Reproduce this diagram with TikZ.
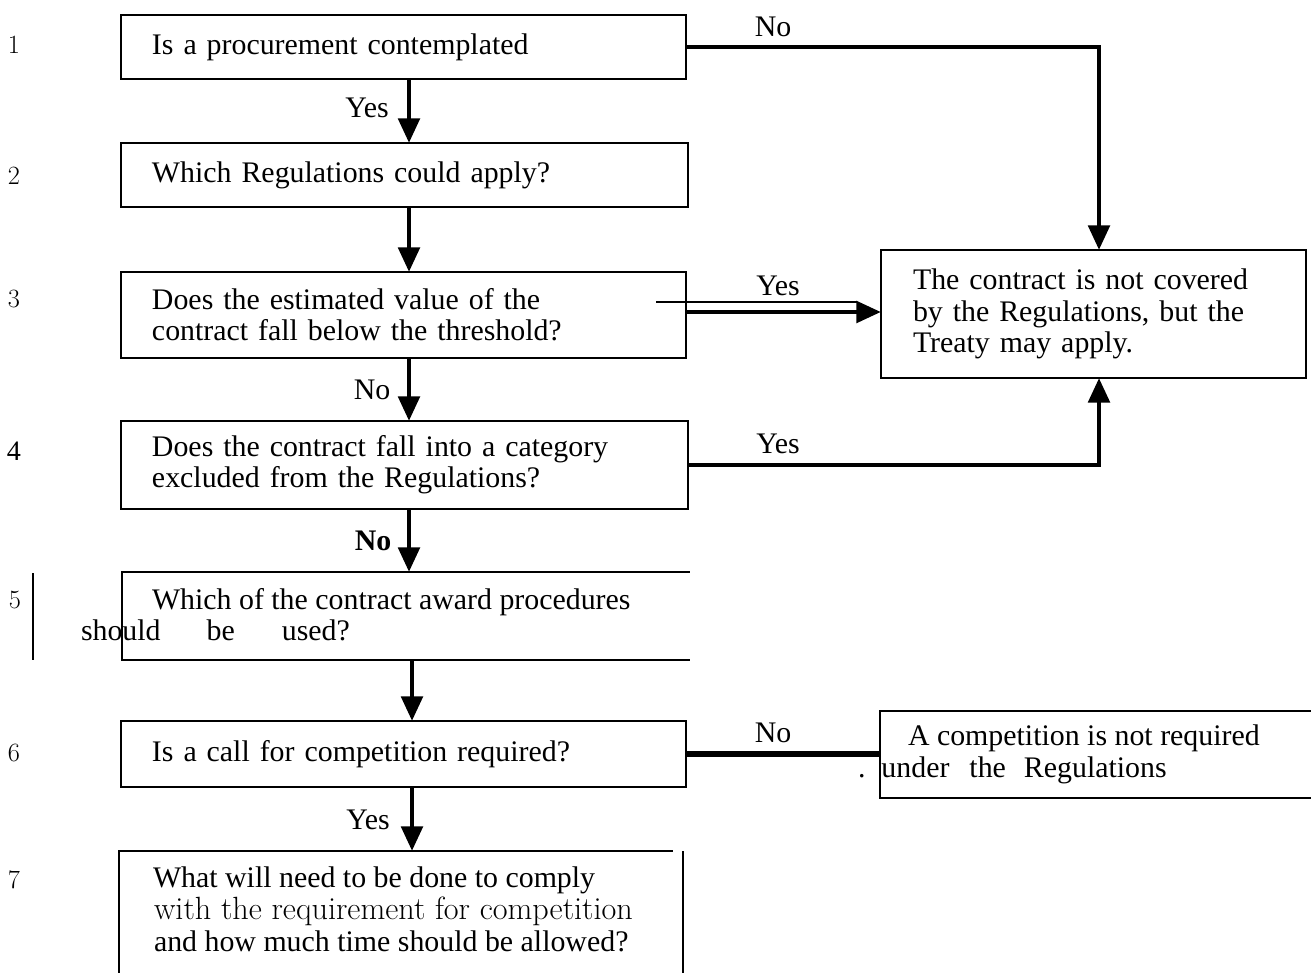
\documentclass[tikz,border=0pt]{standalone}
\usepackage{fontspec}
\newfontfamily\tms{Liberation Serif}
\usetikzlibrary{arrows.meta,calc}
\begin{document}
\begin{tikzpicture}[x=0.02cm,y=-0.02cm,
  every node/.style={inner sep=0pt,outer sep=0pt},
  txt/.style={font=\tms\fontsize{17}{17.8}\selectfont},
  lmtxt/.style={font=\fontsize{18.3}{17.8}\selectfont},
  procbox/.style={draw,line width=1.5pt,anchor=north west,txt,align=left,inner xsep=0.62cm,inner ysep=0pt},
  openbox/.style={anchor=north west},
  edgeline/.style={line width=1.5pt},
  conn/.style={line width=2.8pt},
  arr/.style={conn,-{Triangle[length=14pt,width=12pt]}},
  lab/.style={txt},
  num/.style={font=\fontsize{15}{15}\selectfont},
]
\fill[white] (0,0) rectangle (1311,973);
\useasboundingbox (0,0) rectangle (1311,973);

% column coordinates for the vertical connectors
\coordinate (colA) at (409,0);
\coordinate (colB) at (412,0);
\coordinate (colR) at (1099,0);
\coordinate (rowY) at (0,312);
\coordinate (t1) at (656,302);
\coordinate (t2) at (857,302);

% boxes
\node[procbox,text width=10.06cm,minimum height=1.28cm] (b1) at (121,15) {Is a procurement contemplated};
\node[procbox,text width=10.1cm,minimum height=1.28cm] (b2) at (121,143) {Which Regulations could apply?};
\node[procbox,text width=10.06cm,minimum height=1.72cm] (b3) at (121,272) {Does the estimated value of the\\contract fall below the threshold?};
\node[procbox,text width=10.1cm,minimum height=1.76cm] (b4) at (121,421) {Does the contract fall into a category\\excluded from the Regulations?};
\node[openbox,minimum width=11.36cm,minimum height=1.76cm] (b5) at (122,572) {};
\node[procbox,text width=10.06cm,minimum height=1.32cm] (b6) at (121,721) {Is a call for competition required?};
\node[openbox,minimum width=11.28cm,minimum height=2.44cm] (b7) at (119,851) {};
\node[procbox,text width=7.22cm,inner xsep=0.64cm,minimum height=2.56cm] (r1) at (881,250) {The contract is not covered\\by the Regulations, but the\\Treaty may apply.};
\node[openbox,minimum width=8.62cm,minimum height=1.74cm] (r2) at (880,711) {};

% open box outlines
\draw[edgeline] (b5.north east) -- (b5.north west) -- (b5.south west) -- (b5.south east);
\draw[edgeline] (b7.south west) -- (b7.north west) -- ([xshift=-0.2cm]b7.north east);
\draw[edgeline] (b7.north east) -- (b7.south east);
\draw[edgeline] (r2.north east) -- (r2.north west) -- (r2.south west) -- (r2.south east);
\draw[line width=1.7pt] (33,573) -- (33,660);

% texts of open boxes
\node[txt,anchor=base west] (b5a) at (152,609) {Which of the contract award procedures};
\node[txt,anchor=base west] (b5b) at (81,640) {should\hspace*{0.92cm}be\hspace*{0.94cm}used?};
\node[txt,anchor=base west] (b7a) at (153,887) {What will need to be done to comply};
\node[lmtxt,anchor=base west] (b7b) at (154,919) {with the requirement for competition};
\node[txt,anchor=base west] (b7c) at (154,951) {and how much time should be allowed?};
\node[txt,anchor=base west] (r2a) at (908,745) {A competition is not required};
\node[txt,anchor=base west] (r2b) at (858,777) {.\hspace*{0.32cm}under\hspace*{0.4cm}the\hspace*{0.36cm}Regulations};

% step numbers
\node[num] (n1) at (14,45) {1};
\node[num] (n2) at (14,176) {2};
\node[num] (n3) at (14,299) {3};
\node[txt,font=\tms\fontsize{16}{16}\selectfont] (n4) at (14,451) {4};
\node[num] (n5) at (15,600) {5};
\node[num] (n6) at (14,753) {6};
\node[num] (n7) at (14,880) {7};

% connectors
\draw[arr] (b1.south -| colA) -- (b2.north -| colA);
\draw[arr] (b2.south -| colA) -- (b3.north -| colA);
\draw[arr] (b3.south -| colA) -- (b4.north -| colA);
\draw[arr] (b4.south -| colA) -- (b5.north -| colA);
\draw[arr] (b5.south -| colB) -- (b6.north -| colB);
\draw[arr] (b6.south -| colB) -- (b7.north -| colB);
\draw[arr] (b1.east) -| (r1.north -| colR);
\draw[arr] (b4.east) -| (r1.south -| colR);
\draw[arr] (b3.east |- rowY) -- (r1.west |- rowY);
\draw[line width=1.7pt] (t1) -- (t2);
\draw[line width=3.4pt] (b6.east) -- (b6.east -| r2.west);

% connector labels
\node[lab] (l1) at (773,27) {No};
\node[lab] (l2) at (367,108) {Yes};
\node[lab] (l3) at (778,286) {Yes};
\node[lab] (l4) at (372,390) {No};
\node[lab] (l5) at (778,444) {Yes};
\node[lab,font=\tms\bfseries\fontsize{17}{17.8}\selectfont] (l6) at (373,541) {No};
\node[lab] (l7) at (773,733) {No};
\node[lab] (l8) at (368,820) {Yes};
\end{tikzpicture}
\end{document}
